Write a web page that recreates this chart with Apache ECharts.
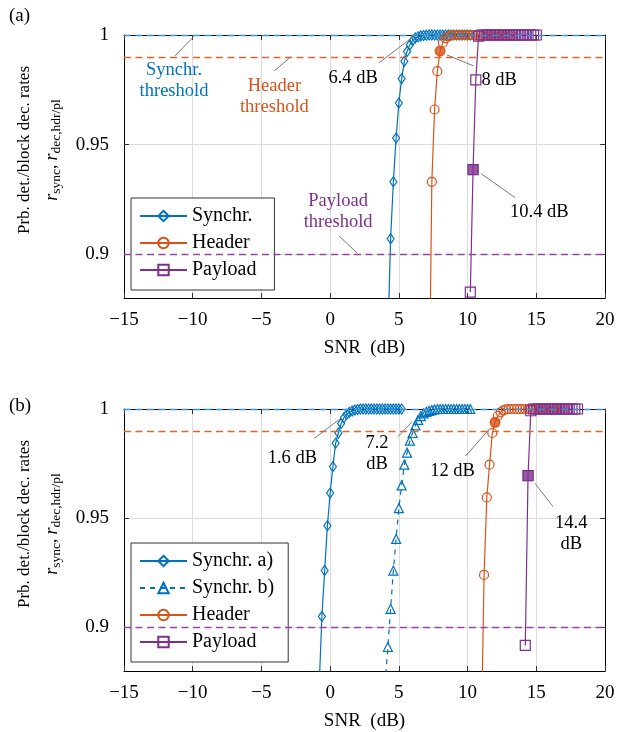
<!DOCTYPE html>
<html><head><meta charset="utf-8">
<script src="https://cdn.jsdelivr.net/npm/echarts@6/dist/echarts.min.js"></script>
<style>html,body{margin:0;padding:0;background:#fff}#c{width:618px;height:732px}</style>
</head><body><div id="c"></div>
<script>
// ---------- data ----------
// Panel (a)
const snrSyncTop = [4.2,4.4,4.6,4.8,5.0,5.2,5.4,5.6,5.8,6.0,6.2,6.4,6.6,6.8,7.0,7.2,7.4,7.6,7.8,8.0,8.2,8.4,8.6,8.8,9.0,9.2,9.4,9.6,9.8,10.0,10.2];
const rSyncTop   = [0.862,0.907,0.933,0.953,0.969,0.980,0.988,0.9925,0.9955,0.9975,0.9986,0.9992,0.9996,0.9998,0.9999,1,1,1,1,1,1,1,1,1,1,1,1,1,1,1,1];
const snrHdrTop  = [7.2,7.4,7.6,7.8,8.0,8.2,8.4,8.6,8.8,9.0,9.2,9.4,9.6,9.8,10.0,10.2,10.4,10.6,10.8,11.0,11.2,11.4,11.6,11.8,12.0,12.2,12.4,12.6,12.8,13.0,13.2];
const rHdrTop    = [0.827,0.933,0.966,0.9835,0.9927,0.9965,0.9985,0.9994,0.9998,1,1,1,1,1,1,1,1,1,1,1,1,1,1,1,1,1,1,1,1,1,1];
const snrPlTop   = [10.2,10.4,10.6,10.8,11.0,11.2,11.4,11.6,11.8,12.0,12.2,12.4,12.6,12.8,13.0,13.2,13.4,13.6,13.8,14.0,14.2,14.4,14.6,14.8,15.0];
const rPlTop     = [0.8827,0.9386,0.9795,0.9995,1,1,1,1,1,1,1,1,1,1,1,1,1,1,1,1,1,1,1,1,1];
const hdrMarkTop = [8.0, 0.9927];
const plMarkTop  = [10.4, 0.9386];
// Panel (b)
const snrSyncA = [-0.8,-0.6,-0.4,-0.2,0.0,0.2,0.4,0.6,0.8,1.0,1.2,1.4,1.6,1.8,2.0,2.2,2.4,2.6,2.8,3.0,3.2,3.4,3.6,3.8,4.0,4.2,4.4,4.6,4.8,5.0,5.2];
const rSyncA   = [0.873,0.905,0.926,0.9465,0.9615,0.9735,0.9843,0.989,0.9934,0.996,0.9975,0.9985,0.9991,0.9995,0.9998,1,1,1,1,1,1,1,1,1,1,1,1,1,1,1,1];
const snrSyncB = [4.0,4.2,4.4,4.6,4.8,5.0,5.2,5.4,5.6,5.8,6.0,6.2,6.4,6.6,6.8,7.0,7.2,7.4,7.6,7.8,8.0,8.2,8.4,8.6,8.8,9.0,9.2,9.4,9.6,9.8,10.0,10.2];
const rSyncB   = [0.874,0.891,0.9085,0.926,0.9405,0.9546,0.965,0.9745,0.980,0.9855,0.989,0.9925,0.995,0.9967,0.998,0.9987,0.9991,0.9995,0.9998,1,1,1,1,1,1,1,1,1,1,1,1,1];
const snrHdrBot = [11.0,11.2,11.4,11.6,11.8,12.0,12.2,12.4,12.6,12.8,13.0,13.2,13.4,13.6,13.8,14.0,14.2,14.4,14.6,14.8,15.0,15.2,15.4,15.6,15.8,16.0,16.2,16.4,16.6,16.8,17.0];
const rHdrBot   = [0.85,0.924,0.9595,0.9745,0.989,0.9939,0.9968,0.9985,0.9994,0.9998,1,1,1,1,1,1,1,1,1,1,1,1,1,1,1,1,1,1,1,1,1];
const snrPlBot  = [14.2,14.4,14.6,14.8,15.0,15.2,15.4,15.6,15.8,16.0,16.2,16.4,16.6,16.8,17.0,17.2,17.4,17.6,17.8,18.0];
const rPlBot    = [0.8917,0.9695,0.9992,1,1,1,1,1,1,1,1,1,1,1,1,1,1,1,1,1];
const hdrMarkBot = [12.0, 0.9939];
const plMarkBot  = [14.4, 0.9695];
// thresholds
const thrSync = 0.999, thrHdr = 0.99, thrPl = 0.9;
// axes
const xTickMin = -15, xTickMax = 20, xTickStep = 5;
const yMin = 0.88, yMax = 1;
const yTicks = [0.9, 0.95, 1];
// annotations: [text, textX, textY, lineX1, lineY1, lineX2, lineY2, colour]
const annTop = [
  ['6.4 dB', 1.67, 0.9805, 3.55, 0.9873, 6.1, 0.9995, 'k'],
  ['8 dB', 12.3, 0.9795, 8.5, 0.9909, 10.43, 0.9859, 'k'],
  ['10.4 dB', 15.22, 0.9192, 10.99, 0.9367, 13.46, 0.9258, 'k'],
  ['Synchr.\nthreshold', -11.36, 0.9793, -11.3, 0.99045, -9.93, 0.99923, 'b'],
  ['Header\nthreshold', -4.06, 0.9718, -4.06, 0.98364, -2.85, 0.99014, 'o'],
  ['Payload\nthreshold', 0.58, 0.9192, 0.65, 0.9083, 1.98, 0.90045, 'p']
];
const annBot = [
  ['1.6 dB', -2.75, 0.9775, -1.16, 0.98656, 0.78, 0.99573, 'k'],
  ['7.2\ndB', 3.41, 0.9794, 4.93, 0.98729, 5.96, 0.99417, 'k'],
  ['12 dB', 8.91, 0.97156, 9.86, 0.97844, 11.52, 0.99037, 'k'],
  ['14.4\ndB', 17.54, 0.9431, 14.91, 0.96592, 16.23, 0.95518, 'k']
];

// ---------- styling ----------
const FONT = 'Liberation Serif';
const C = {b:'#0072BD', o:'#D95319', p:'#7E2F8E'};
const CT = {b:'#3b93d3', o:'#e2652c', p:'#9445a3'};
const GRIDS = [{top:35}, {top:409}];

function zip(xs, ys){ return xs.map((x,i)=>[x, ys[i]]); }

function curve(name, xs, ys, color, symbol, size, g, dashed){
  return {
    type:'line', name, xAxisIndex:g, yAxisIndex:g, data:zip(xs, ys),
    symbol, symbolSize:size, showSymbol:true, clip:true, silent:true, z:3,
    lineStyle:{color, width:1.2, type: dashed ? [5,5] : 'solid'},
    itemStyle:{color:'rgba(255,255,255,0)', borderColor:color, borderWidth:1.2},
    emphasis:{disabled:true}
  };
}
function filled(pt, color, symbol, size, g){
  return {type:'scatter', xAxisIndex:g, yAxisIndex:g, data:[pt], symbol, symbolSize:size,
    itemStyle:{color}, silent:true, z:4};
}
function annHost(g, anns){
  const lines = [
    {yAxis:thrSync, lineStyle:{color:CT.b, type:[7,4.5], width:1.3}},
    {yAxis:thrHdr,  lineStyle:{color:CT.o, type:[7,4.5], width:1.3}},
    {yAxis:thrPl,   lineStyle:{color:CT.p, type:[7,4.5], width:1.3}}
  ];
  anns.forEach(a=>lines.push([{coord:[a[3],a[4]]},{coord:[a[5],a[6]]}]));
  const pts = anns.map(a=>({
    coord:[a[1],a[2]], symbol:'circle', symbolSize:1,
    itemStyle:{color:'rgba(0,0,0,0)'},
    label:{show:true, position:'inside', formatter:a[0], color: a[7]==='k' ? '#000' : C[a[7]],
      fontFamily:FONT, fontSize:18.5, lineHeight:21}
  }));
  return {type:'line', xAxisIndex:g, yAxisIndex:g, data:[], silent:true, z:2,
    markLine:{silent:true, symbol:'none', animation:false, label:{show:false},
      lineStyle:{color:'#7a7a7a', width:1, type:'solid'}, data:lines},
    markPoint:{silent:true, animation:false, data:pts}};
}

const xAxes = [], yAxes = [];
[0,1].forEach(g=>{
  xAxes.push({type:'value', gridIndex:g, min:xTickMin, max:xTickMax, interval:xTickStep,
    axisLine:{show:true, onZero:false, lineStyle:{color:'#000', width:1}},
    axisTick:{show:true, inside:true, length:5, lineStyle:{color:'#333'}},
    axisLabel:{color:'#000', fontFamily:FONT, fontSize:19, margin:13,
      formatter:v=>String(v).replace('-', '\u2212')},
    splitLine:{show:true, lineStyle:{color:'#dcdcdc', width:1}},
    name:'SNR\u2002(dB)', nameLocation:'middle', nameGap:41,
    nameTextStyle:{color:'#000', fontFamily:FONT, fontSize:19}});
  yAxes.push({type:'value', gridIndex:g, min:yMin, max:yMax,
    axisLine:{show:true, onZero:false, lineStyle:{color:'#000', width:1}},
    axisTick:{show:true, inside:true, length:5, customValues:yTicks, lineStyle:{color:'#333'}},
    axisLabel:{color:'#000', fontFamily:FONT, fontSize:19, margin:15, customValues:yTicks,
      formatter:v=>String(v)},
    splitLine:{show:true, lineStyle:{color:'#dcdcdc', width:1}}});
});
[0,1].forEach(g=>{
  xAxes.push({type:'value', gridIndex:g, position:'top', min:xTickMin, max:xTickMax, interval:xTickStep,
    axisLine:{show:true, onZero:false, lineStyle:{color:'#000'}},
    axisTick:{show:true, inside:true, length:5, lineStyle:{color:'#333'}},
    axisLabel:{show:false}, splitLine:{show:false}});
  yAxes.push({type:'value', gridIndex:g, position:'right', min:yMin, max:yMax,
    axisLine:{show:true, onZero:false, lineStyle:{color:'#000'}},
    axisTick:{show:true, inside:true, length:5, customValues:yTicks, lineStyle:{color:'#333'}},
    axisLabel:{show:false}, splitLine:{show:false}});
});

const legendBase = {orient:'vertical', left:131, backgroundColor:'#fff', borderColor:'#333', borderWidth:1,
  itemGap:7, itemWidth:47, itemHeight:13, selectedMode:false,
  textStyle:{color:'#000', fontFamily:FONT, fontSize:20, lineHeight:20}};

const ytitle = (cy)=>[
  {type:'text', x:25, y:cy, rotation:Math.PI/2, style:{text:'Prb. det./block dec. rates', fill:'#000',
    font:'17px "Liberation Serif"', align:'center', verticalAlign:'middle'}},
  {type:'text', x:52, y:cy, rotation:Math.PI/2, style:{
    text:'{i|r}{s|sync}{n|, }{i|r}{s|dec,hdr/pl}', align:'center', verticalAlign:'middle',
    rich:{i:{fontFamily:FONT, fontStyle:'italic', fontSize:18, fill:'#000', verticalAlign:'middle', lineHeight:22},
          n:{fontFamily:FONT, fontSize:17, fill:'#000', verticalAlign:'middle', lineHeight:22},
          s:{fontFamily:FONT, fontSize:13.5, fill:'#000', verticalAlign:'bottom', lineHeight:22}}}}
];

const option = {
  animation:false,
  backgroundColor:'#fff',
  grid: GRIDS.map(g=>({left:124, right:13, top:g.top, height:263, containLabel:false})),
  xAxis: xAxes, yAxis: yAxes,
  legend: [
    Object.assign({}, legendBase, {top:198, padding:[8,18,10,8], data:['Synchr.','Header','Payload']}),
    Object.assign({}, legendBase, {top:543, padding:[8,14,10,8], data:['Synchr. a)','Synchr. b)','Header','Payload']})
  ],
  graphic: [
    {type:'text', x:9, y:7, style:{text:'(a)', font:'19px "Liberation Serif"', fill:'#000'}},
    {type:'text', x:9, y:397, style:{text:'(b)', font:'19px "Liberation Serif"', fill:'#000'}}
  ].concat(ytitle(150), ytitle(524)),
  series: [
    annHost(0, annTop),
    curve('Synchr.', snrSyncTop, rSyncTop, C.b, 'diamond', [7,10], 0),
    curve('Header', snrHdrTop, rHdrTop, C.o, 'circle', 9, 0),
    curve('Payload', snrPlTop, rPlTop, C.p, 'rect', 10, 0),
    filled(hdrMarkTop, C.o, 'circle', 11, 0),
    filled(plMarkTop, C.p, 'rect', 11, 0),
    annHost(1, annBot),
    curve('Synchr. a)', snrSyncA, rSyncA, C.b, 'diamond', [7,10], 1),
    curve('Synchr. b)', snrSyncB, rSyncB, C.b, 'triangle', 9, 1, true),
    curve('Header', snrHdrBot, rHdrBot, C.o, 'circle', 9, 1),
    curve('Payload', snrPlBot, rPlBot, C.p, 'rect', 10, 1),
    filled(hdrMarkBot, C.o, 'circle', 11, 1),
    filled(plMarkBot, C.p, 'rect', 11, 1)
  ]
};
const chart = echarts.init(document.getElementById('c'), null, {renderer:'canvas'});
chart.setOption(option);
</script></body></html>
